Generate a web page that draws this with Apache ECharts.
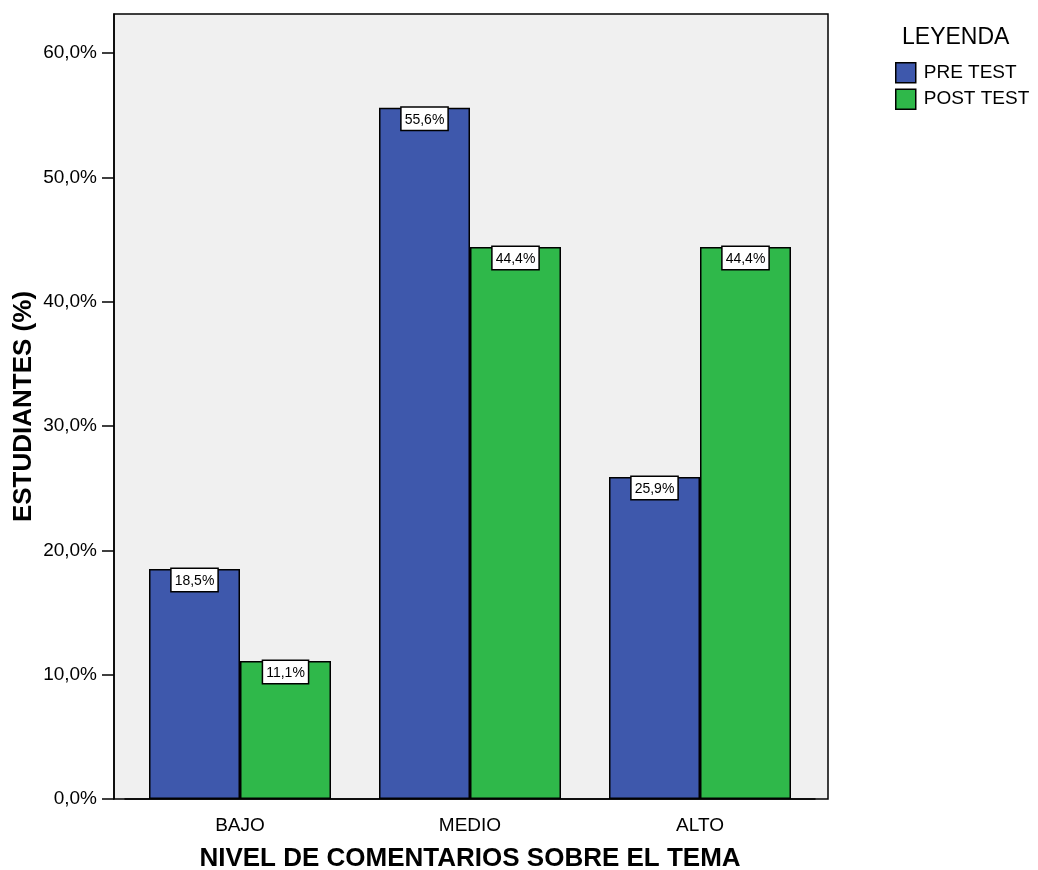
<!DOCTYPE html>
<html lang="es">
<head>
    <meta charset="UTF-8">
    <title>Nivel de comentarios sobre el tema</title>
    <script src="https://cdn.jsdelivr.net/npm/echarts@6/dist/echarts.min.js"></script>
    <style>
        html, body { margin: 0; padding: 0; background: #fff; }
        #main { width: 1038px; height: 870px; }
    </style>
</head>
<body>
<div id="main"></div>
<script>
    var categories = ['BAJO', 'MEDIO', 'ALTO'];
    var preTest = [18.5, 55.6, 25.9];
    var postTest = [11.1, 44.4, 44.4];
    var yTicks = [0, 10, 20, 30, 40, 50, 60];
    var yMax = 63.14;

    var font = 'Liberation Sans, Arial, sans-serif';

    function pct(v) {
        return v.toFixed(1).replace('.', ',') + '%';
    }

    var barLabel = {
        show: true,
        position: 'insideTop',
        distance: 0,
        formatter: function (p) { return pct(p.value); },
        fontFamily: font,
        fontSize: 14,
        color: '#000',
        backgroundColor: '#fff',
        borderColor: '#000',
        borderWidth: 1.5,
        padding: [5, 3, 3, 3]
    };

    var myChart = echarts.init(document.getElementById('main'));
    var option = {
        animation: false,
        title: {
            text: 'LEYENDA',
            left: 902,
            top: 26,
            padding: 0,
            textStyle: { fontFamily: font, fontSize: 23, fontWeight: 'normal', color: '#000' }
        },
        legend: {
            orient: 'vertical',
            left: 895,
            top: 62,
            padding: 0,
            itemWidth: 20,
            itemHeight: 20,
            itemGap: 5,
            icon: 'rect',
            itemStyle: { borderColor: '#000', borderWidth: 1.5 },
            textStyle: { fontFamily: font, fontSize: 19, color: '#000', padding: [0, 0, 0, 3] },
            data: ['PRE TEST', 'POST TEST']
        },
        grid: [
            {   // plot frame
                left: 114, right: 210, top: 14, bottom: 71,
                outerBoundsMode: 'none',
                show: true,
                backgroundColor: '#f0f0f0',
                borderColor: '#000',
                borderWidth: 1.5
            },
            {   // category area, a bit narrower than the frame
                left: 125, right: 223, top: 14, bottom: 71,
                outerBoundsMode: 'none'
            }
        ],
        xAxis: [
            { type: 'value', gridIndex: 0, show: false },
            {
                type: 'category',
                gridIndex: 1,
                data: categories,
                axisLine: { lineStyle: { color: '#000', width: 1.5 } },
                axisTick: { alignWithLabel: true, length: 10, lineStyle: { color: '#000', width: 1.5 } },
                axisLabel: { fontFamily: font, fontSize: 19, color: '#000', margin: 17 },
                name: 'NIVEL DE COMENTARIOS SOBRE EL TEMA',
                nameLocation: 'middle',
                nameGap: 47,
                nameTextStyle: { fontFamily: font, fontSize: 26, fontWeight: 'bold', color: '#000' }
            }
        ],
        yAxis: [
            {
                type: 'value',
                gridIndex: 0,
                min: 0,
                max: yMax,
                interval: 10,
                axisLine: { show: true, lineStyle: { color: '#000', width: 1.5 } },
                axisTick: { show: true, length: 12, customValues: yTicks, lineStyle: { color: '#000', width: 1.5 } },
                axisLabel: {
                    fontFamily: font, fontSize: 19, color: '#000', margin: 17,
                    customValues: yTicks,
                    formatter: function (v) { return pct(v); }
                },
                splitLine: { show: false },
                name: 'ESTUDIANTES (%)',
                nameLocation: 'middle',
                nameGap: 77,
                nameMoveOverlap: false,
                nameTextStyle: { fontFamily: font, fontSize: 26, fontWeight: 'bold', color: '#000' }
            },
            { type: 'value', gridIndex: 1, min: 0, max: yMax, show: false }
        ],
        series: [
            {
                name: 'PRE TEST',
                type: 'bar',
                xAxisIndex: 1,
                yAxisIndex: 1,
                data: preTest,
                barWidth: 91,
                barGap: '0%',
                itemStyle: { color: '#3e58ac', borderColor: '#000', borderWidth: 1.5 },
                label: barLabel
            },
            {
                name: 'POST TEST',
                type: 'bar',
                xAxisIndex: 1,
                yAxisIndex: 1,
                data: postTest,
                barWidth: 91,
                barGap: '0%',
                itemStyle: { color: '#2fb84a', borderColor: '#000', borderWidth: 1.5 },
                label: barLabel
            }
        ]
    };
    myChart.setOption(option);
</script>
</body>
</html>
